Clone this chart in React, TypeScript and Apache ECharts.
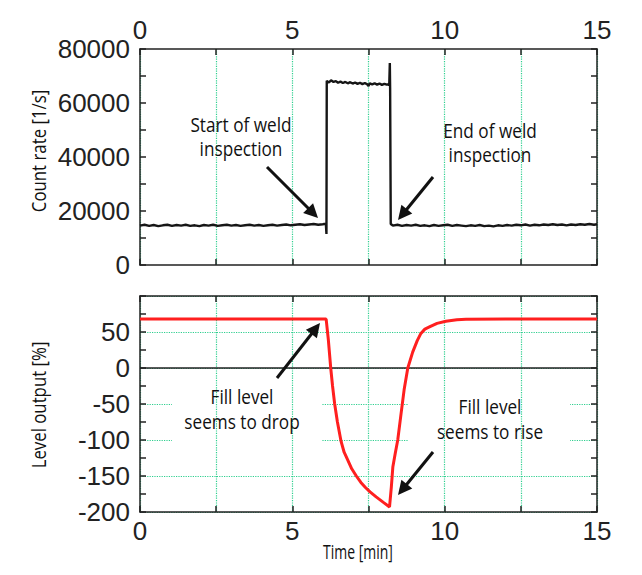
import React, { useEffect, useRef } from "react";
import * as echarts from "echarts";

// ---- Data ----
const countTime = [
  0, 0.15, 0.3, 0.45, 0.6, 0.75, 0.9, 1.05, 1.2, 1.35, 1.5, 1.65, 1.8, 1.95, 2.1, 2.25, 2.4, 2.55, 2.7, 2.85,
  3.0, 3.15, 3.3, 3.45, 3.6, 3.75, 3.9, 4.05, 4.2, 4.35, 4.5, 4.65, 4.8, 4.95, 5.1, 5.25, 5.4, 5.55, 5.7, 5.85,
  6.0, 6.1, 6.12, 6.13, 6.2, 6.27, 6.35, 6.43, 6.5, 6.58, 6.66, 6.74, 6.82, 6.9, 6.98, 7.06, 7.14, 7.22, 7.3, 7.38,
  7.46, 7.5, 7.54, 7.62, 7.7, 7.78, 7.86, 7.94, 8.02, 8.1, 8.16, 8.18, 8.2, 8.21, 8.23, 8.3, 8.45, 8.6, 8.75, 8.9,
  9.05, 9.2, 9.35, 9.5, 9.65, 9.8, 9.95, 10.1, 10.25, 10.4, 10.55, 10.7, 10.85, 11.0, 11.15, 11.3, 11.45, 11.6, 11.75, 11.9,
  12.05, 12.2, 12.35, 12.5, 12.65, 12.8, 12.95, 13.1, 13.25, 13.4, 13.55, 13.7, 13.85, 14.0, 14.15, 14.3, 14.45, 14.6, 14.75, 14.9,
  15.0,
];
const countRate = [
  14600, 14900, 14500, 14800, 14400, 14700, 14900, 14500, 14800, 14600, 14900, 14500, 14700, 14400, 14800, 14600, 14900, 14500, 14700, 14900,
  14600, 14800, 14500, 14700, 14900, 14600, 14800, 14500, 14700, 14900, 14600, 14800, 15000, 14700, 14900, 15100, 14800, 15000, 15200, 14900,
  15100, 15300, 11500, 68200, 67600, 68400, 67800, 68100, 67500, 67900, 67400, 67800, 67300, 67700, 67200, 67600, 67100, 67500, 67000, 67400,
  66900, 66300, 67300, 66900, 67300, 66800, 67200, 66700, 67100, 66800, 67000, 66500, 74800, 65500, 15200, 14600, 14900, 14500, 14800, 14600,
  14900, 14500, 14700, 14400, 14800, 14500, 14700, 14900, 14500, 14800, 14600, 14400, 14700, 14500, 14800, 14400, 14600, 14300, 14700, 14500,
  14800, 14600, 14900, 14700, 15000, 14600, 14900, 14700, 15000, 14800, 15100, 14800, 15000, 14700, 15000, 14800, 15100, 14900, 15200, 14900,
  15100,
];

const levelTime = [
  0, 6.11, 6.18, 6.26, 6.32, 6.39, 6.48, 6.6, 6.7, 6.82, 6.95, 7.1, 7.25, 7.4, 7.55, 7.75, 8.0, 8.19,
  8.25, 8.3, 8.38, 8.46, 8.57, 8.67, 8.79, 8.95, 9.1, 9.22, 9.35, 9.5, 9.75, 10.04, 10.4, 10.7, 12, 15,
];
const levelValue = [
  68, 68, 40, 0, -25, -50, -75, -102, -117, -128, -140, -150, -159, -166, -172, -179, -187, -193,
  -165, -137, -118, -100, -63, -30, 0, 22, 38, 48, 54, 57, 62, 65, 67, 67.6, 68, 68,
];

const zeroTime = [0, 15];
const zeroValue = [0, 0];

const timeLabels = [0, 5, 10, 15];
const countLabels = [0, 20000, 40000, 60000, 80000];
const levelLabels = [-200, -150, -100, -50, 0, 50];

const NUM_FONT = "'Liberation Sans Narrow', 'Arial Narrow', 'Liberation Sans', Arial, sans-serif";
const TXT_FONT = "'Open Sans', 'Noto Sans', sans-serif";
const DARK = "#222";
const GREEN = "#2fcf8f";

function zip(a: number[], b: number[]) {
  return a.map((v, i) => [v, b[i]]);
}

function arrow(tail: number[], tip: number[]) {
  const dx = tip[0] - tail[0];
  const dy = tip[1] - tail[1];
  const len = Math.sqrt(dx * dx + dy * dy);
  const ux = dx / len;
  const uy = dy / len;
  const hl = 14;
  const hw = 7;
  const bx = tip[0] - ux * hl;
  const by = tip[1] - uy * hl;
  return [
    {
      type: "polyline",
      z: 10,
      silent: true,
      shape: { points: [tail, [bx + ux * 2, by + uy * 2]] },
      style: { stroke: "#111", lineWidth: 3, fill: null },
    },
    {
      type: "polygon",
      z: 10,
      silent: true,
      shape: {
        points: [
          tip,
          [bx - uy * hw, by + ux * hw],
          [bx + uy * hw, by - ux * hw],
        ],
      },
      style: { fill: "#111" },
    },
  ];
}

function label(text: string, x: number, y: number, opts: any = {}) {
  return {
    type: "text",
    z: 10,
    silent: true,
    x,
    y,
    rotation: opts.rotation || 0,
    scaleX: opts.scaleX || 0.86,
    style: {
      text,
      fill: "#111",
      fontFamily: TXT_FONT,
      fontSize: opts.fontSize || 20,
      lineHeight: opts.lineHeight || 24,
      align: "center",
      verticalAlign: "middle",
      textAlign: "center",
      textVerticalAlign: "middle",
    },
  };
}

function whiteBox(x: number, y: number, w: number, h: number) {
  return {
    type: "rect",
    z: 1,
    silent: true,
    shape: { x, y, width: w, height: h },
    style: { fill: "#fff" },
  };
}

export default function App() {
  const ref = useRef<HTMLDivElement>(null);

  useEffect(() => {
    if (!ref.current) return;
    const chart = echarts.init(ref.current, null, { renderer: "svg" });

    const tick = { show: true, inside: true, length: 6, lineStyle: { color: DARK, width: 1.5 } };
    const axisLine = { show: true, onZero: false, lineStyle: { color: DARK, width: 1.5 } };
    const numLabel = (list: number[], margin: number, show = true) => ({
      show,
      margin,
      color: DARK,
      fontFamily: NUM_FONT,
      fontSize: 26,
      formatter: (v: number) => (list.includes(v) ? String(v) : ""),
    });
    const vGrid = { show: true, lineStyle: { color: GREEN, type: "dotted", width: 1.2 } };

    const option: any = {
      animation: false,
      backgroundColor: "#fff",
      grid: [
        { left: 140, top: 49, width: 457, height: 216 },
        { left: 140, top: 296, width: 457, height: 216 },
      ],
      xAxis: [
        {
          type: "value", gridIndex: 0, position: "top", min: 0, max: 15, interval: 2.5,
          axisLine, axisTick: tick, axisLabel: numLabel(timeLabels, 6), splitLine: vGrid, z: 1,
        },
        {
          type: "value", gridIndex: 0, position: "bottom", min: 0, max: 15, interval: 2.5,
          axisLine, axisTick: tick, axisLabel: { show: false }, splitLine: { show: false }, z: 1,
        },
        {
          type: "value", gridIndex: 1, position: "bottom", min: 0, max: 15, interval: 2.5,
          axisLine, axisTick: tick, axisLabel: numLabel(timeLabels, 6), splitLine: vGrid, z: 1,
        },
        {
          type: "value", gridIndex: 1, position: "top", min: 0, max: 15, interval: 2.5,
          axisLine, axisTick: tick, axisLabel: { show: false }, splitLine: { show: false }, z: 1,
        },
      ],
      yAxis: [
        {
          type: "value", gridIndex: 0, position: "left", min: 0, max: 80000, interval: 10000,
          axisLine, axisTick: tick, axisLabel: numLabel(countLabels, 10), splitLine: { show: false }, z: 1,
        },
        {
          type: "value", gridIndex: 0, position: "right", min: 0, max: 80000, interval: 10000,
          axisLine, axisTick: tick, axisLabel: { show: false }, splitLine: { show: false }, z: 1,
        },
        {
          type: "value", gridIndex: 1, position: "left", min: -200, max: 100, interval: 25,
          axisLine, axisTick: tick, axisLabel: numLabel(levelLabels, 10), splitLine: { show: false }, z: 1,
        },
        {
          type: "value", gridIndex: 1, position: "right", min: -200, max: 100, interval: 25,
          axisLine, axisTick: tick, axisLabel: { show: false }, splitLine: { show: false }, z: 1,
        },
        {
          type: "value", gridIndex: 1, position: "left", min: -200, max: 100, interval: 50,
          axisLine: { show: false, onZero: false }, axisTick: { show: false }, axisLabel: { show: false },
          splitLine: { show: true, lineStyle: { color: GREEN, type: "dotted", width: 1.2 } }, z: 0,
        },
      ],
      series: [
        {
          name: "Count rate",
          type: "line",
          xAxisIndex: 0,
          yAxisIndex: 0,
          data: zip(countTime, countRate),
          showSymbol: false,
          symbol: "none",
          lineStyle: { color: "#161616", width: 2.4 },
          z: 3,
        },
        {
          name: "Zero",
          type: "line",
          xAxisIndex: 2,
          yAxisIndex: 2,
          data: zip(zeroTime, zeroValue),
          symbol: "none",
          lineStyle: { color: DARK, width: 1.5 },
          z: 2,
        },
        {
          name: "Level output",
          type: "line",
          xAxisIndex: 2,
          yAxisIndex: 2,
          data: zip(levelTime, levelValue),
          symbol: "none",
          lineStyle: { color: "#ff1f1f", width: 3 },
          z: 3,
        },
      ],
      graphic: [
        whiteBox(182, 107, 120, 52),
        whiteBox(432, 107, 115, 61),
        whiteBox(172, 379, 150, 66),
        whiteBox(408, 385, 162, 61),
        label("Start of weld\ninspection", 241, 136),
        label("End of weld\ninspection", 490, 142),
        label("Fill level\nseems to drop", 242, 408, { lineHeight: 25 }),
        label("Fill level\nseems to rise", 490, 418, { lineHeight: 25 }),
        ...arrow([267, 167], [318, 218]),
        ...arrow([433, 177], [398, 220]),
        ...arrow([277, 378], [320, 323]),
        ...arrow([433, 452], [398, 495]),
        label("Count rate [1/s]", 38, 151, { rotation: Math.PI / 2, fontSize: 20, scaleX: 0.84 }),
        label("Level output [%]", 38, 405, { rotation: Math.PI / 2, fontSize: 20, scaleX: 0.84 }),
        label("Time [min]", 358, 551, { fontSize: 20, scaleX: 0.7 }),
      ],
    };

    chart.setOption(option);
    return () => chart.dispose();
  }, []);

  return (
    <div
      ref={ref}
      style={{ position: "fixed", left: 0, top: 0, width: 642, height: 575, background: "#fff" }}
    />
  );
}
